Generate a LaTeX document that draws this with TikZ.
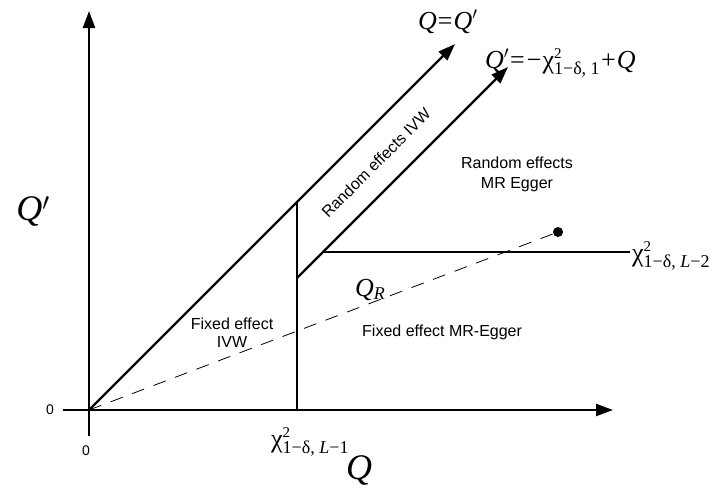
\documentclass[tikz,border=0pt]{standalone}
\usepackage{fontspec}
\setmainfont{Liberation Serif}
\newfontfamily\sansf{Liberation Sans}
\usetikzlibrary{arrows.meta}
\newcommand\supsz[1]{\mbox{\fontsize{15}{15}\selectfont #1}}
\newcommand\subsz[1]{\mbox{\fontsize{18}{18}\selectfont #1}}
\newcommand\chilab[1]{χ$^{\supsz{2}}_{\subsz{#1}}$}
\newcommand\opsp[1]{\kern1pt#1\kern1pt}
\begin{document}
\begin{tikzpicture}[x=1pt,y=-1pt,
  mainline/.style={line width=2.3pt},
  arr/.style={-{Triangle[length=17pt,width=12pt]}},
  lab/.style={font=\sansf\fontsize{16}{20}\selectfont, inner sep=0pt, align=center},
  mlab/.style={font=\fontsize{26}{30}\selectfont, inner sep=0pt},
  biglab/.style={font=\fontsize{36}{40}\selectfont\itshape, inner sep=0pt},
  zerolab/.style={font=\sansf\fontsize{14}{16}\selectfont, inner sep=0pt},
]
\useasboundingbox (0,0) rectangle (718,488);
% key points
\coordinate (O) at (89,410);
\coordinate (ytop) at (89,11);
\coordinate (ybot) at (89,436);
\coordinate (xleft) at (63,410);
\coordinate (xright) at (613,410);
\coordinate (d1end) at (455,44);
\coordinate (vtop) at (297,202);
\coordinate (vbot) at (297,410);
\coordinate (d2start) at (297,278);
\coordinate (d2end) at (508,67);
\coordinate (hstart) at (323,252);
\coordinate (hend) at (630,252);
\node[circle, fill, inner sep=0pt, minimum size=10pt] (dot) at (558,232) {};
% axes
\draw[mainline, arr] (ybot) -- (ytop);
\draw[mainline, arr] (xleft) -- (xright);
% lines
\draw[mainline, arr] (O) -- (d1end);
\draw[mainline, arr] (d2start) -- (d2end);
\draw[mainline] (vtop) -- (vbot);
\draw[mainline] (hstart) -- (hend);
\draw[line width=0.8pt, dash pattern=on 13pt off 10pt] (O) -- (dot.center);
% math labels
\node[mlab, anchor=base west] (lqq) at (418,29) {\itshape Q\upshape\opsp{=}\itshape Q\upshape$'$};
\node[mlab, anchor=base west] (lq2) at (485,68) {\itshape Q\upshape$'$\opsp{=}\opsp{−}\chilab{1−δ, 1}\opsp{+}\itshape Q};
\node[biglab, anchor=base east] (ylab) at (50,220) {Q\upshape$'$};
\node[biglab, anchor=base west] (xlab) at (346,479) {Q};
\node[mlab, anchor=base west] (c1) at (271,447) {\chilab{1−δ, \itshape L\upshape −1}};
\node[mlab, anchor=base west] (c2) at (632,261) {\chilab{1−δ, \itshape L\upshape −2}};
\node[font=\fontsize{26}{30}\selectfont\itshape, inner sep=0pt, anchor=base west] (qr) at (355,296) {Q$_{\mbox{\fontsize{18}{18}\selectfont\itshape R}}$};
% zeros
\node[zerolab] (z1) at (50,410) {0};
\node[zerolab] (z2) at (86,451) {0};
% region labels
\node[lab, rotate=45] (reivw) at (376,163) {Random effects IVW};
\node[lab] (remr) at (517,174) {Random effects\\MR Egger};
\node[lab, font=\sansf\fontsize{16}{18}\selectfont] (feivw) at (232,333) {Fixed effect\\IVW};
\node[lab, anchor=west] (femr) at (362,332) {Fixed effect MR-Egger};
\end{tikzpicture}
\end{document}
